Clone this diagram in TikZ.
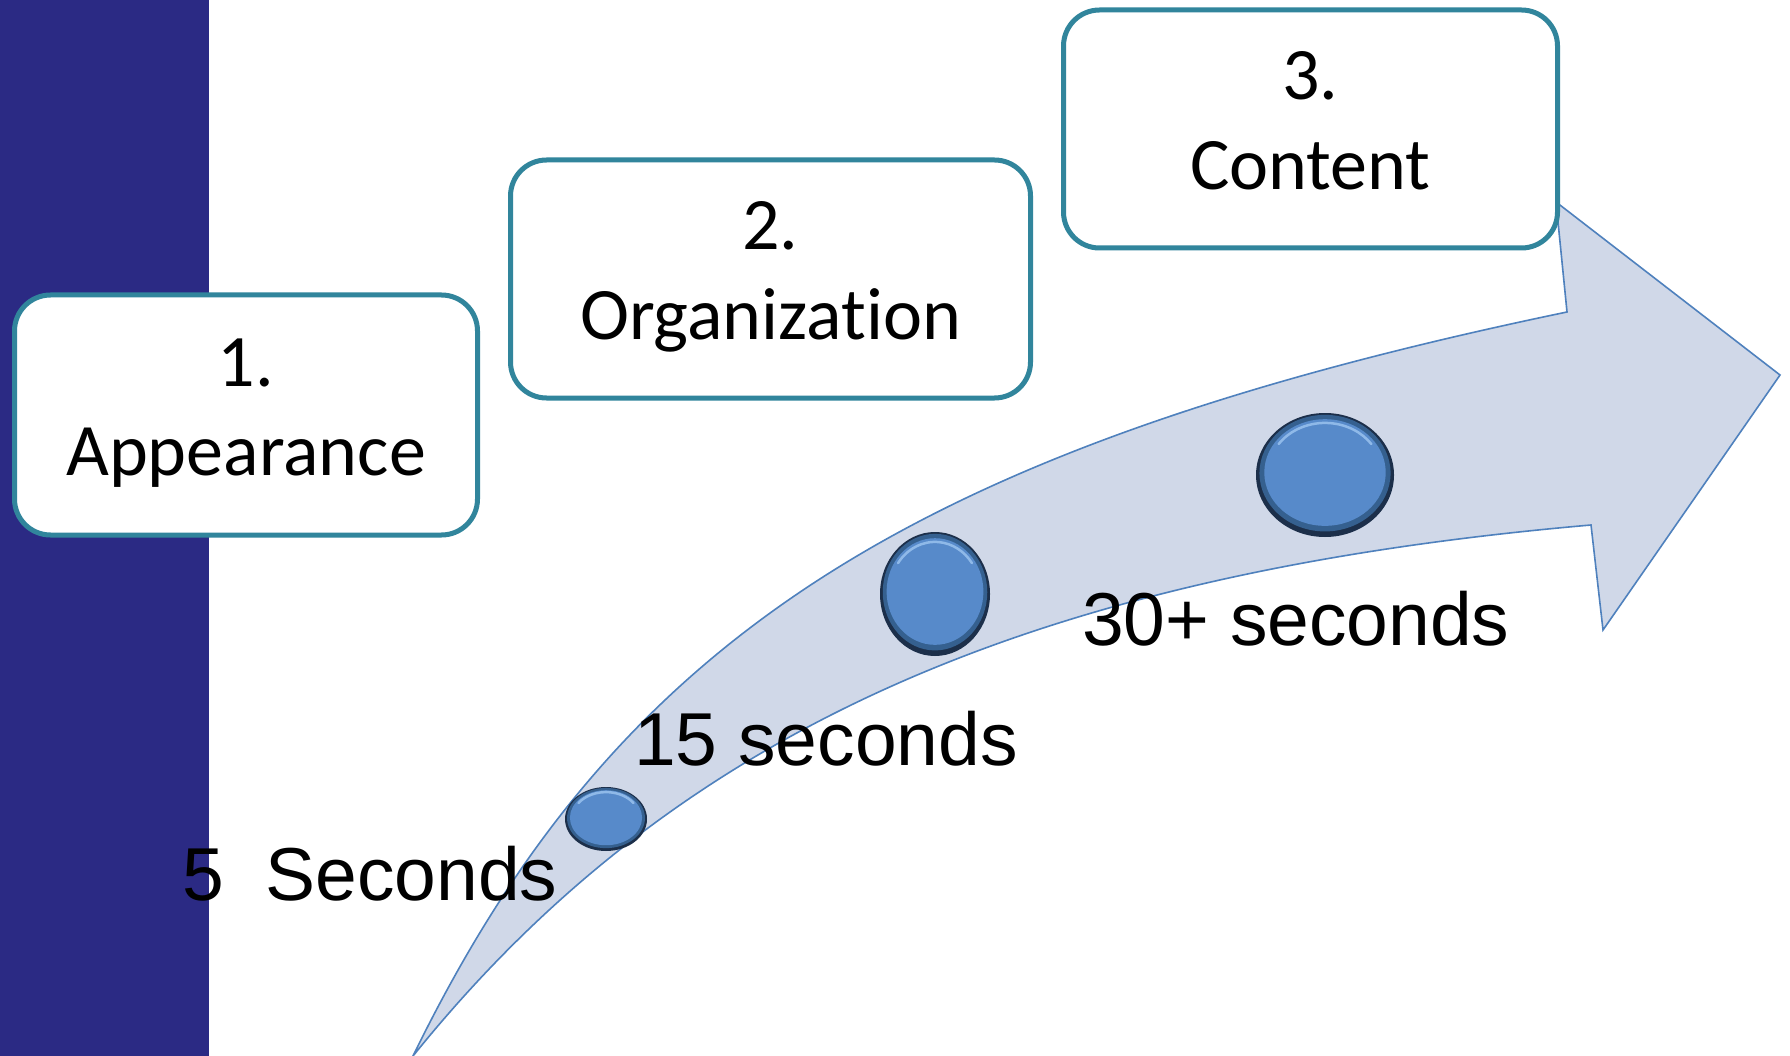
\documentclass[tikz,border=0pt]{standalone}
\usepackage{fontspec}
\usetikzlibrary{shapes.geometric}
\newfontfamily\calfont[Ligatures=NoCommon]{Carlito}
\newfontfamily\arifont{Liberation Sans}
\definecolor{barblue}{HTML}{2B2A84}
\definecolor{tealline}{HTML}{31859C}
\definecolor{arrowfill}{HTML}{D0D8E8}
\definecolor{arrowline}{HTML}{4F81BD}
\definecolor{btnrim}{HTML}{1C2F4A}
\definecolor{btnmid}{HTML}{35608F}
\definecolor{btnface}{HTML}{578ACA}
\definecolor{btnhi}{HTML}{8FB9E8}
\tikzset{
 stepbox/.style={draw=tealline, line width=5pt, fill=white, rounded corners=36pt, inner sep=0pt},
 boxtxt/.style={font=\calfont\fontsize{74}{88}\selectfont, anchor=base, inner sep=0pt},
 timetxt/.style={font=\arifont\fontsize{75}{90}\selectfont, anchor=base west, inner sep=0pt},
 bigarrow/.style={fill=arrowfill, draw=arrowline, line width=1.6pt, line join=miter},
 btnnode/.style={ellipse, inner sep=0pt, fill=btnrim},
}
\newcommand\mybutton[5]{%
 \node[btnnode, minimum width=#4*2pt, minimum height=#5*2pt] (#1) at (#2,#3) {};
 \fill[btnmid] (#2,{#3-0.03*#5}) ellipse ({0.95*#4} and {0.94*#5});
 \fill[btnface] (#2,{#3-0.04*#5}) ellipse ({0.88*#4} and {0.86*#5});
 \draw[btnhi, line width=2.5pt, line cap=round] ([shift={(#2,{#3-0.04*#5})}]215:{0.82*#4} and {0.8*#5}) arc[start angle=215, end angle=325, x radius={0.82*#4}, y radius={0.8*#5}];
}
\begin{document}
\begin{tikzpicture}[x=1pt, y=-1pt]
\useasboundingbox (0,0) rectangle (1790,1056);
\fill[white] (0,0) rectangle (1790,1056);
\fill[barblue] (0,0) rectangle (209,1056);
% curved arrow
\draw[bigarrow] (413,1056) .. controls (614,644) and (903,450) .. (1567,312)
  -- (1556,202) -- (1780,375) -- (1603,630) -- (1591,525)
  .. controls (1027,574) and (673,733) .. (413,1056) -- cycle;
% buttons
\mybutton{c1}{606}{819}{41}{32}
\mybutton{c2}{935}{594}{55}{62}
\mybutton{c3}{1325}{475}{69}{62}
% boxes
\node[stepbox, minimum width=463pt, minimum height=240pt] (b1) at (246,415) {};
\node[stepbox, minimum width=520pt, minimum height=238pt] (b2) at (770.5,279) {};
\node[stepbox, minimum width=494pt, minimum height=238pt] (b3) at (1310.5,129) {};
\node[boxtxt] (b1a) at (246,386) {1.};
\node[boxtxt] (b1b) at (246,475) {Appearance};
\node[boxtxt] (b2a) at (770.5,250) {2.};
\node[boxtxt] (b2b) at (770.5,340) {Organization};
\node[boxtxt] (b3a) at (1310.5,100) {3.};
\node[boxtxt] (b3b) at (1310.5,190) {Content};
% time labels
\node[timetxt] (t5) at (182,900) {5\ \ Seconds};
\node[timetxt] (t15) at (634,765) {15 seconds};
\node[timetxt] (t30) at (1082,645) {30+ seconds};
\end{tikzpicture}
\end{document}
